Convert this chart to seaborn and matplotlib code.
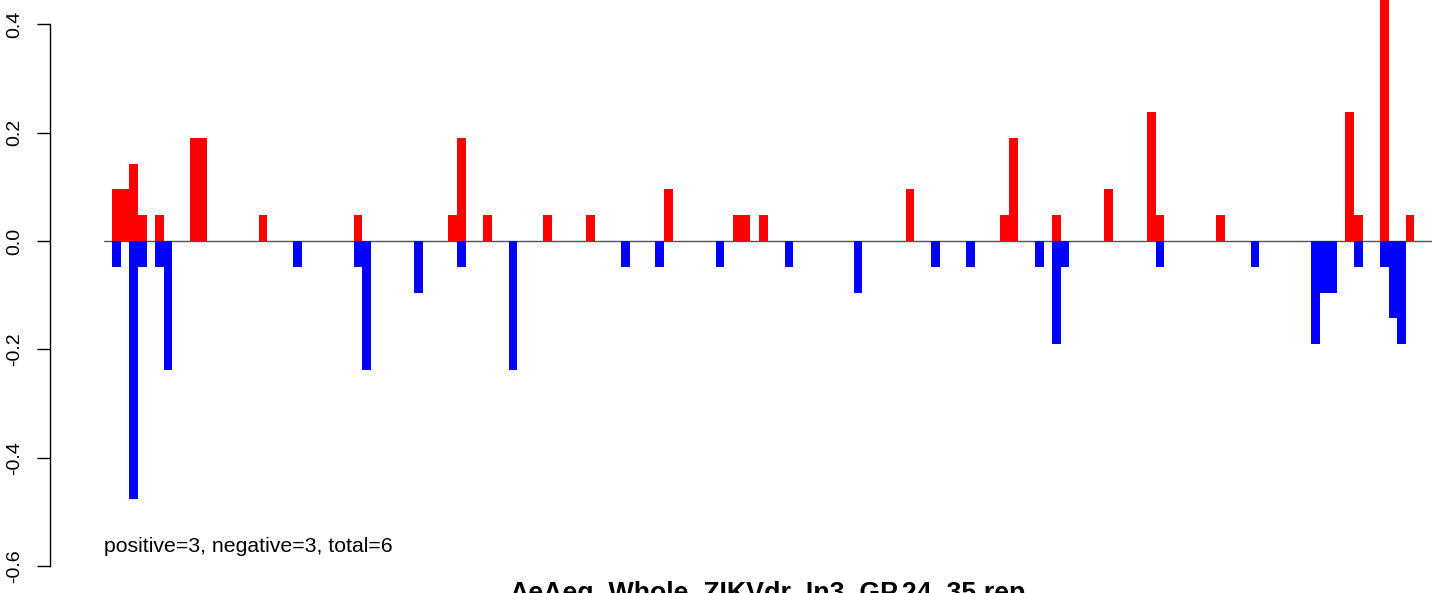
import matplotlib
matplotlib.use("Agg")
import matplotlib.pyplot as plt
import seaborn as sns
import pandas as pd

# ---- data (bin index, value) ----
n_bins = 151
pos_bins = [0, 1, 2, 3, 5, 9, 10, 17, 28, 39, 40, 43, 50, 55, 64, 72, 73, 75, 92,
            103, 104, 109, 115, 120, 121, 128, 143, 144, 147, 150]
pos_vals = [0.0952, 0.0952, 0.1429, 0.0476, 0.0476, 0.1905, 0.1905, 0.0476, 0.0476,
            0.0476, 0.1905, 0.0476, 0.0476, 0.0476, 0.0952, 0.0476, 0.0476, 0.0476,
            0.0952, 0.0476, 0.1905, 0.0476, 0.0952, 0.2381, 0.0476, 0.0476, 0.2381,
            0.0476, 0.4762, 0.0476]
neg_bins = [0, 2, 3, 5, 6, 21, 28, 29, 35, 40, 46, 59, 63, 70, 78, 86, 95, 99, 107,
            109, 110, 121, 132, 139, 140, 141, 144, 147, 148, 149]
neg_vals = [-0.0476, -0.4762, -0.0476, -0.0476, -0.2381, -0.0476, -0.0476, -0.2381,
            -0.0952, -0.0476, -0.2381, -0.0476, -0.0476, -0.0476, -0.0476, -0.0952,
            -0.0476, -0.0476, -0.0476, -0.1905, -0.0476, -0.0476, -0.0476, -0.1905,
            -0.0952, -0.0952, -0.0476, -0.0476, -0.1429, -0.1905]
yticks = [-0.6, -0.4, -0.2, 0.0, 0.2, 0.4]
ytick_labels = ["-0.6", "-0.4", "-0.2", "0.0", "0.2", "0.4"]
summary_text = "positive=3, negative=3, total=6"
title_text = "AeAeg_Whole_ZIKVdr_In3_GP.24_35.rep"

sns.set_theme(style="white")
plt.rcParams["font.family"] = ["Liberation Sans", "DejaVu Sans"]

W, H = 1444, 593
PX = 0.72  # points per pixel at dpi=100
fig = plt.figure(figsize=(W / 100, H / 100), dpi=100)
ax = fig.add_axes([104 / W, 0.0, (1432 - 104) / W, 1.0])

order = list(range(n_bins))
df_pos = pd.DataFrame({"bin": pos_bins, "value": pos_vals})
df_neg = pd.DataFrame({"bin": neg_bins, "value": neg_vals})

ax.axhline(0, color="#555555", lw=1.0, zorder=0)
sns.barplot(data=df_pos, x="bin", y="value", order=order, color="#ff0000",
            saturation=1, width=1.0, linewidth=0, errorbar=None, ax=ax, zorder=2)
sns.barplot(data=df_neg, x="bin", y="value", order=order, color="#0000ff",
            saturation=1, width=1.0, linewidth=0, errorbar=None, ax=ax, zorder=2)

# pixel mapping: zero at y=241, 542 px per unit
zero_px, ppu = 241.0, 542.0
ax.set_ylim((zero_px - H) / ppu, zero_px / ppu)
ax.set_xlim(-1.43, 152.54)

for s in ["top", "right", "bottom"]:
    ax.spines[s].set_visible(False)
ax.spines["left"].set_position(("outward", 54 * PX))
ax.spines["left"].set_bounds(-0.6, 0.4)
ax.spines["left"].set_color("black")
ax.spines["left"].set_linewidth(1.0)
ax.set_xticks([])
ax.set_yticks(yticks)
ax.set_yticklabels(ytick_labels, rotation=90, va="center", fontsize=14)
ax.tick_params(axis="y", left=True, length=13 * PX, width=1.0, color="black",
               pad=14 * PX, labelcolor="black")
ax.set_xlabel("")
ax.set_ylabel("")
ax.grid(False)
ax.set_facecolor("white")

ax.text(-1.43, (zero_px - 547) / ppu, summary_text, ha="left", va="center",
        fontsize=15.3, color="black")

fig.text((104 + 1432) / 2 / W, -8 / H, title_text, ha="center", va="baseline",
         fontsize=19.3, fontweight="bold", color="black")

fig.savefig("out.png", dpi=100, facecolor="white")
